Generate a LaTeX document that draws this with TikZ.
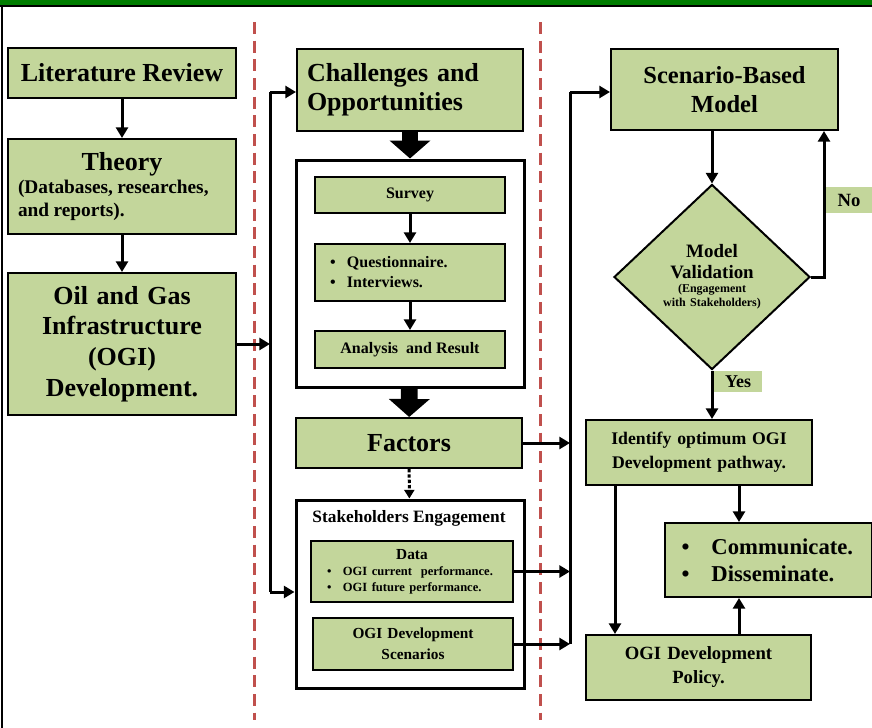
\documentclass[tikz,border=0pt]{standalone}
\usepackage{fontspec}
\setmainfont{Liberation Serif}
\usepackage{tikz}
\usetikzlibrary{arrows.meta,calc,positioning,shapes.geometric}
\usepackage{xcolor}

\definecolor{boxgreen}{RGB}{195,214,155}
\definecolor{bandgreen}{RGB}{0,125,0}
\definecolor{divred}{RGB}{192,80,77}

\newcommand{\setfs}[2]{\fontsize{#1pt}{#2pt}\selectfont}
\newcommand{\dotitem}[1]{\makebox[#1][l]{\textbullet}}

\tikzset{
  box/.style={draw, line width=1.5pt, fill=boxgreen, inner sep=0pt, align=center, font=\bfseries},
  frame/.style={draw, line width=2.25pt, fill=white, inner sep=0pt},
  boxsize/.style 2 args={minimum width=#1*0.75pt, minimum height=#2*0.75pt},
  tag/.style={fill=boxgreen, inner sep=0pt, font=\bfseries},
  arr/.style={line width=2.25pt, -{Triangle[length=8pt,width=9pt]}},
  bigarr/.style={line width=12.5pt, -{Triangle[length=13.5pt,width=30pt]}},
  dotarr/.style={line width=2.25pt, dash pattern=on 2.5pt off 1.5pt, -{Triangle[length=6.5pt,width=7.5pt]}},
  divider/.style={divred, line width=2.25pt, dash pattern=on 9pt off 5pt}
}

\begin{document}
\begin{tikzpicture}[x=0.75pt,y=-0.75pt]
    \useasboundingbox (0,0) rectangle (872,728);
    % frame
    \fill[bandgreen] (0,0) rectangle (872,5);
    \draw[line width=1pt] (0,6) -- (872,6);
    \draw[line width=1.2pt] (2,6) -- (2,728);
    \draw[divider] (254,22) -- (254,720);
    \draw[divider] (540,22) -- (540,720);

    % left column
    \node[box, boxsize={228}{50}, font=\bfseries\setfs{19.5}{23}] (litrev) at (122,73) {Literature Review};
    \node[box, boxsize={228}{95}, text width=156pt, align=left] (theory) at (122,186.5)
        {{\centering\setfs{19.5}{25}Theory\par}{\setfs{14.5}{17}(Databases, researches,\\and reports).\par}};
    \node[box, boxsize={228}{142}, text width=165pt, font=\bfseries\setfs{19.5}{23}] (ogi) at (122,344)
        {Oil and Gas\\Infrastructure\\(OGI)\\Development.};

    % middle column
    \node[box, boxsize={226}{82}, text width=154.5pt, align=left, font=\bfseries\setfs{19.5}{22}] (chal) at (410,90)
        {Challenges and\\Opportunities};
    \node[frame, boxsize={228}{227}] (tools) at (410,273.5) {};
    \node[box, boxsize={190}{36}, font=\bfseries\setfs{12}{15}] (survey) at (410,195) {Survey};
    \node[box, boxsize={190}{57}, text width=120pt, align=left, font=\bfseries\setfs{12}{15}] (quest) at (410,272.5)
        {\dotitem{12.75pt}Questionnaire.\\\dotitem{12.75pt}Interviews.};
    \node[box, boxsize={190}{37}, font=\bfseries\setfs{12}{15}] (anal) at (410,349.5) {Analysis~ and Result};
    \node[box, boxsize={226}{50}, font=\bfseries\setfs{19.5}{23}] (factors) at (409,443) {Factors};
    \node[frame, boxsize={228}{188}] (stake) at (410,594) {};
    \node[font=\bfseries\setfs{13}{15}] (staketitle) at (409,518) {Stakeholders Engagement};
    \node[box, boxsize={202}{61}, text width=127.5pt, align=left] (data) at (412,571.5)
        {{\centering\setfs{11.5}{15}Data\par}{\setfs{9.4}{12}\dotitem{12pt}OGI current~ performance.\\\dotitem{12pt}OGI future performance.\par}};
    \node[box, boxsize={200}{52}, text width=140pt, font=\bfseries\setfs{11.5}{16}] (scen) at (413,644)
        {OGI Development\\Scenarios};

    % right column
    \node[box, boxsize={227}{81}, text width=160pt, font=\bfseries\setfs{18.4}{22}] (model) at (724.5,89.5)
        {Scenario-Based\\Model};
    \node[box, shape=diamond, boxsize={196}{164}, text width=90pt] (valid) at (712,277)
        {{\setfs{14.2}{16}Model\\Validation\par}{\setfs{9}{10.5}(Engagement\\with Stakeholders)\par}};
    \node[tag, boxsize={46}{26}, font=\bfseries\setfs{14}{16}] (no) at (849,200) {No};
    \node[tag, boxsize={48}{21}, font=\bfseries\setfs{13.5}{15}] (yes) at (738,381.5) {Yes};
    \node[box, boxsize={226}{65}, text width=165pt, font=\bfseries\setfs{13.3}{18}] (ident) at (699,452.5)
        {Identify optimum OGI\\Development pathway.};
    \node[box, boxsize={207}{74}, text width=130.5pt, align=left, font=\bfseries\setfs{17}{20}] (comm) at (768.5,560)
        {\dotitem{22.5pt}Communicate.\\\dotitem{22.5pt}Disseminate.};
    \node[box, boxsize={225}{65}, text width=165pt, font=\bfseries\setfs{14}{18}] (policy) at (698.5,667.5)
        {OGI Development\\Policy.};

    % bus lines
    \coordinate (b1t) at (270,92);
    \coordinate (b1b) at (270,592);
    \coordinate (b2t) at (570,92);
    \coordinate (b2b) at (scen.east -| b2t);
    \coordinate (noturn) at (824,277);
    \coordinate (colL) at (615,0);
    \coordinate (colR) at (739,0);

    % arrows
    \draw[arr] (litrev) -- (theory);
    \draw[arr] (theory) -- (ogi);
    \draw[arr] (ogi.east) -- (ogi.east -| b1t);
    \draw[line width=2.25pt] (b1t) -- (b1b);
    \draw[arr] (b1t) -- (b1t -| chal.west);
    \draw[arr] (b1b) -- (b1b -| stake.west);
    \draw[bigarr] (chal) -- (tools);
    \draw[arr] (survey) -- (quest);
    \draw[arr] (quest) -- (anal);
    \draw[bigarr] (tools) -- (factors);
    \draw[dotarr] (factors) -- (stake);
    \draw[arr] (factors.east) -- (factors.east -| b2t);
    \draw[arr] (data.east) -- (data.east -| b2t);
    \draw[arr] (scen.east) -- (b2b);
    \draw[line width=2.25pt] (b2t) -- (b2b);
    \draw[arr] (b2t) -- (b2t -| model.west);
    \draw[arr] (model.south -| valid.north) -- (valid.north);
    \draw[arr] (valid.east) -- (noturn) -- (noturn |- model.south);
    \draw[arr] (valid.south) -- (valid.south |- ident.north);
    \draw[arr] (ident.south -| colR) -- (comm.north -| colR);
    \draw[arr] (ident.south -| colL) -- (policy.north -| colL);
    \draw[arr] (policy.north -| colR) -- (comm.south -| colR);
\end{tikzpicture}
\end{document}
